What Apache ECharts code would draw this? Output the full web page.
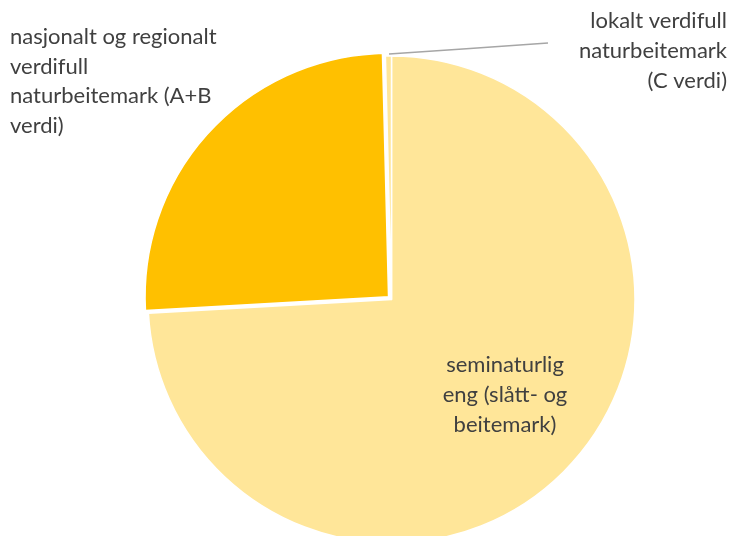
<!DOCTYPE html>
<html>
<head>
<meta charset="utf-8">
<script src="https://cdn.jsdelivr.net/npm/echarts@6/dist/echarts.min.js"></script>
<style>
    html, body{margin: 0; padding: 0; background: #fff;}
    #chart{width: 730px; height: 536px;}
</style>
</head>
<body>
<div id="chart"></div>
<script>
    // andeler lest av figuren (prosent)
    var categories = [
        'seminaturlig\neng (slått- og\nbeitemark)',
        'nasjonalt og regionalt\nverdifull\nnaturbeitemark (A+B\nverdi)',
        'lokalt verdifull\nnaturbeitemark\n(C verdi)'
    ];
    var values = [74.1, 25.5, 0.4];
    var colors = ['#FFE699', '#FFC000', '#FFE699'];

    // plassering av etikettene
    var labelPos = [
        {x: 505, y: 395, align: 'center'},
        {x: 10, y: 81.5, align: 'left'},
        {x: 727, y: 51, align: 'right'}
    ];

    var textColor = '#404040';
    var fontSize = 22;

    var myChart = echarts.init(document.getElementById('chart'));
    myChart.setOption({
        animation: false,
        // den utskilte sektoren (A+B) får etiketten sin som egen tekst,
        // ellers flytter valgt-tilstanden den tilbake
        graphic: [
            {
                type: 'text',
                x: labelPos[1].x,
                y: labelPos[1].y,
                style: {
                    text: categories[1],
                    fill: textColor,
                    font: fontSize + 'px Lato',
                    lineHeight: 29.7,
                    align: labelPos[1].align,
                    verticalAlign: 'middle'
                }
            }
        ],
        series: [
            {
                type: 'pie',
                center: [391.5, 299.5],
                radius: 243.5,
                startAngle: 90,
                clockwise: true,
                avoidLabelOverlap: false,
                selectedMode: 'multiple',
                selectedOffset: 4,
                itemStyle: {borderColor: '#fff', borderWidth: 1.5},
                label: {
                    show: true,
                    position: 'outside',
                    formatter: '{b}',
                    color: textColor,
                    fontFamily: 'Lato',
                    fontSize: fontSize,
                    lineHeight: 29.7,
                    overflow: 'none'
                },
                labelLine: {show: true, lineStyle: {color: '#A6A6A6', width: 1.5}},
                labelLayout: function (params) {
                    var p = labelPos[params.dataIndex];
                    var res = {x: p.x, y: p.y, align: p.align, verticalAlign: 'middle'};
                    if (params.dataIndex === 2) {
                        res.labelLinePoints = [[389, 54], [470, 48.5], [548, 43]];
                    }
                    return res;
                },
                data: values.map(function (v, i) {
                    var d = {value: v, name: categories[i], itemStyle: {color: colors[i]}};
                    if (i === 1) {
                        d.selected = true;
                        d.label = {show: false};
                    }
                    if (i !== 2) d.labelLine = {show: false};
                    return d;
                })
            }
        ]
    });
</script>
</body>
</html>
